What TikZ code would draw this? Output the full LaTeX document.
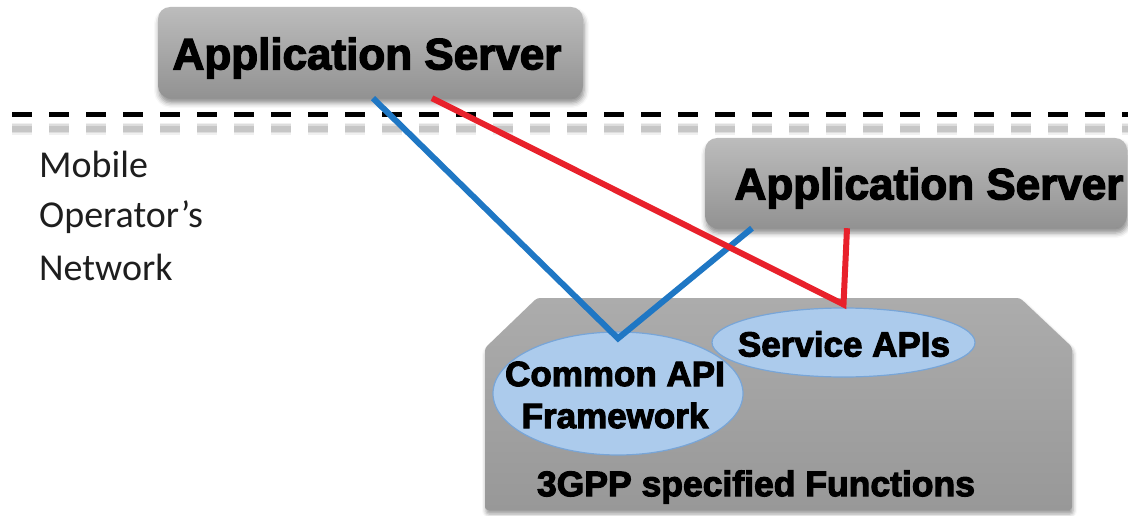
\documentclass[tikz,border=0pt]{standalone}
\usepackage{fontspec}
\usetikzlibrary{shapes.geometric,shadows.blur}
\newfontfamily\heavy{Liberation Sans}[BoldFeatures={FakeBold=3}]
\newfontfamily\plainsans{Carlito}

\definecolor{boxtop}{RGB}{188,188,188}
\definecolor{boxbot}{RGB}{146,146,146}
\definecolor{basetop}{RGB}{172,172,172}
\definecolor{basebot}{RGB}{152,152,152}
\definecolor{apifill}{RGB}{172,203,236}
\definecolor{apiedge}{RGB}{120,165,215}
\definecolor{linkblue}{RGB}{31,119,196}
\definecolor{linkred}{RGB}{232,33,43}
\definecolor{labelgray}{RGB}{30,30,30}

\tikzset{
  server/.style={rounded corners=12pt, top color=boxtop, bottom color=boxbot,
    minimum width=425pt, minimum height=91pt, inner sep=0pt,
    blur shadow={shadow xshift=1pt, shadow yshift=-5pt, shadow blur radius=5pt, shadow opacity=45}},
  servertext/.style={inner sep=0pt, font=\heavy\bfseries\fontsize{44}{50}\selectfont},
  apibubble/.style={ellipse, fill=apifill, draw=apiedge, line width=1.2pt, inner sep=0pt},
  bubbletext/.style={inner sep=0pt, align=center, font=\heavy\bfseries\fontsize{35}{40}\selectfont},
  caption/.style={inner sep=0pt, font=\heavy\bfseries\fontsize{35.5}{40}\selectfont},
  sidetext/.style={inner sep=0pt, anchor=base west, text=labelgray,
    font=\plainsans\fontsize{38}{42}\selectfont},
  bluelink/.style={draw=linkblue, line width=6pt},
  redlink/.style={draw=linkred, line width=6pt},
  boundary/.style={dash pattern=on 20pt off 17pt},
}

\begin{document}
\begin{tikzpicture}[x=1pt,y=-1pt]
  \useasboundingbox (0,0) rectangle (1128,516);

  % upper application server (outside the operator's network)
  \node[server] (as1) at (370.5,52.5) {};
  \node[servertext] (as1txt) at (367,58) {Application Server};

  % network boundary with its soft shadow
  \foreach \w/\o in {12/0.06,9/0.08,6/0.10}
    \draw[boundary, line width=\w pt, draw=black, opacity=\o] (12,129) -- (1128,129);
  \draw[boundary, line width=5pt, draw=black] (12,115) -- (1128,115);

  % operator-side labels
  \node[sidetext] (mob) at (39,178) {Mobile};
  \node[sidetext] (opr) at (39,228) {Operator’s};
  \node[sidetext] (net) at (39,280) {Network};

  % lower application server (inside the operator's network)
  \node[server, minimum width=422pt, minimum height=90pt] (as2) at (916,183) {};
  \node[servertext] (as2txt) at (929,188) {Application Server};

  % 3GPP functions block
  \path[rounded corners=3pt, top color=basetop, bottom color=basebot,
    blur shadow={shadow xshift=1pt, shadow yshift=-4pt, shadow blur radius=4pt, shadow opacity=40}]
    (485,348) -- (537,298) -- (1020,298) -- (1072,347) -- (1072,510) -- (485,510) -- cycle;
  \node[caption] (fn) at (756,487) {3GPP specified Functions};

  % API bubbles
  \node[apibubble, minimum width=263pt, minimum height=69pt] (sapi) at (843.5,342.5) {};
  \node[bubbletext] (sapitxt) at (844,344) {Service APIs};
  \node[apibubble, minimum width=250pt, minimum height=123pt] (capif) at (618,393.5) {};
  \node[bubbletext] (capiftxt) at (615,395) {Common API\\[2pt]Framework};

  % interface lines (the canvas y axis points up, so a negative yshift moves down)
  \draw[bluelink, line join=miter] ([xshift=2.5pt]as1.south) -- ([yshift=-7pt]capif.north) -- ([xshift=-164pt]as2.south);
  \draw[redlink, line join=miter] ([xshift=61.5pt]as1.south) -- ([yshift=3pt]sapi.north) -- ([xshift=-69pt]as2.south);
\end{tikzpicture}
\end{document}
